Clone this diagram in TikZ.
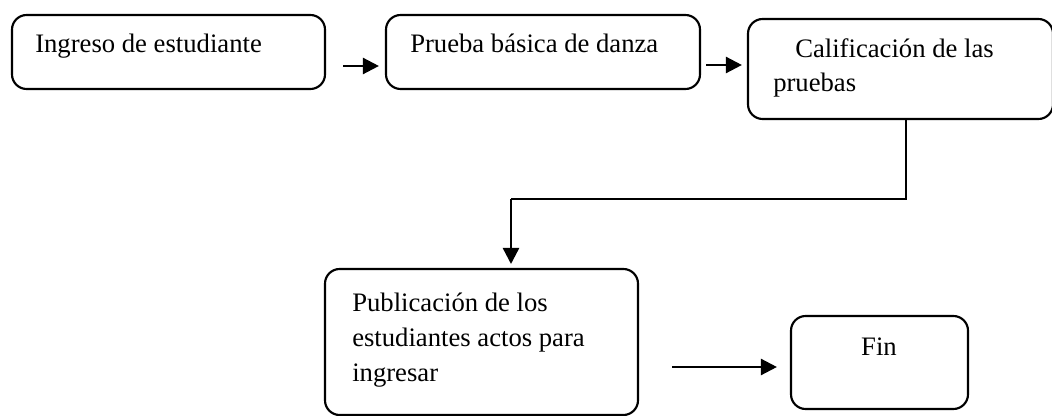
\documentclass[tikz,border=0pt]{standalone}
\usepackage{fontspec}
\setmainfont{Liberation Serif}
\usetikzlibrary{arrows.meta,fit}
\begin{document}
\begin{tikzpicture}[x=0.75pt,y=-0.75pt,
  box/.style={draw, line width=1.6pt, rounded corners=11pt, inner sep=0pt},
  lbl/.style={inner sep=0pt, align=left, font=\fontsize{20}{26}\selectfont},
  arr/.style={line width=1.8pt, -{Triangle[length=12pt,width=12pt]}},
  conn/.style={line width=1.8pt}]
\useasboundingbox (0,0) rectangle (1052,416);
% boxes
\node[box, fit={(12,15) (325,89)}] (b1) {};
\node[box, fit={(386,15) (700,89)}] (b2) {};
\node[box, fit={(748,19) (1053,119)}] (b3) {};
\node[box, fit={(325,269) (638,415)}] (b4) {};
\node[box, fit={(791,316) (968,409)}] (b5) {};
% texts
\node[lbl, anchor=base west] (t1) at (35,53) {Ingreso de estudiante};
\node[lbl, anchor=base west] (t2) at (410,53) {Prueba básica de danza};
\node[lbl, anchor=base west] (t3) at (773,92) {\hspace*{16.5pt}Calificación de las\\pruebas};
\node[lbl, anchor=base west] (t4) at (352,381) {Publicación de los\\estudiantes actos para\\ingresar};
\node[lbl, anchor=base] (t5) at (879,355) {Fin};
% connector coordinates
\coordinate (y1) at (0,66);
\coordinate (y2) at (0,65);
\coordinate (y4) at (0,367);
\coordinate (c1) at (906,119);
\coordinate (c2) at (906,199);
\coordinate (c3) at (511,199);
\coordinate (c4) at (511,269);
% arrows
\draw[arr, shorten <=12.75pt, shorten >=4.5pt] (b1.east |- y1) -- (b2.west |- y1);
\draw[arr, shorten <=3.75pt, shorten >=3.75pt] (b2.east |- y2) -- (b3.west |- y2);
\draw[conn] (c1) -- (c2) -- (c3);
\draw[arr, shorten >=3.75pt] (c3) -- (c4);
\draw[arr, shorten <=24.75pt, shorten >=9.75pt] (b4.east |- y4) -- (b5.west |- y4);
\end{tikzpicture}
\end{document}
